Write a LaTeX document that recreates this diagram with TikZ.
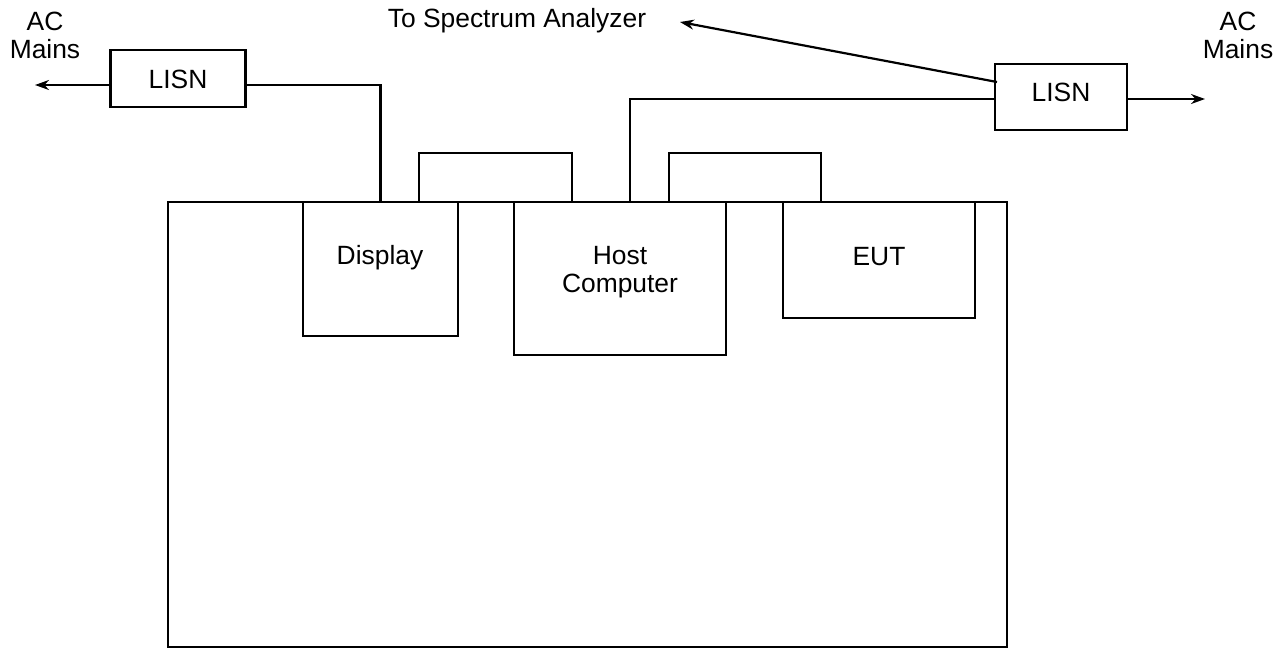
\documentclass[tikz,border=0pt]{standalone}
\usepackage{fontspec}
\setmainfont{Liberation Sans}
\usetikzlibrary{arrows.meta}
\begin{document}
\begin{tikzpicture}[x=0.5pt,y=-0.5pt,
  box/.style={draw,line width=1.1pt,fill=white,inner sep=0pt,outer sep=0pt},
  wire/.style={line width=1.1pt},
  arr/.style={line width=1.1pt,-{Stealth[length=7pt,width=5pt]}},
  lbl/.style={font=\fontsize{13.2pt}{14pt}\selectfont,align=center,inner sep=0pt}]
\useasboundingbox (0,0) rectangle (1281,665);
% bench
\node[box,minimum width=419.5pt,minimum height=222.5pt] (bench) at (587.5,424.5) {};
% units
\node[box,minimum width=77.5pt,minimum height=67pt] (disp) at (380.5,269) {};
\node[box,minimum width=106pt,minimum height=76.5pt] (host) at (620,278.5) {};
\node[box,minimum width=96pt,minimum height=58pt] (eut) at (879,260) {};
\node[lbl] (tdisp) at (380,258) {Display};
\node[lbl] (thost) at (620,272) {Host\\Computer};
\node[lbl] (teut) at (879,257) {EUT};
% LISNs
\node[box,minimum width=67.5pt,minimum height=28.5pt] (lisnL) at (178,78.5) {};
\node[lbl] (tlisnL) at (178,79) {LISN};
\node[box,minimum width=66pt,minimum height=33pt] (lisnR) at (1061,97) {};
\node[lbl] (tlisnR) at (1061,92) {LISN};
% labels
\node[lbl] (acL) at (45,35) {AC\\Mains};
\node[lbl] (acR) at (1238,35) {AC\\Mains};
\node[lbl] (spec) at (517,21) {To Spectrum Analyzer};
% coordinates
\coordinate (aL) at (35,85);
\coordinate (aR) at (1205,99);
\coordinate (d1) at (419,202);
\coordinate (h1) at (572,202);
\coordinate (h2) at (669,202);
\coordinate (e1) at (821,202);
\coordinate (hp) at (630,202);
\coordinate (sa) at (680,22);
\coordinate (ls) at (997,82);
% connectors
\draw[arr] (lisnL.west |- aL) -- (aL);
\draw[wire] (lisnL.east |- aL) -| (disp.north);
\draw[wire] (d1) -- (419,153) -| (h1);
\draw[wire] (h2) -- (669,153) -| (e1);
\draw[wire] (hp) |- (lisnR.west |- aR);
\draw[arr] (lisnR.east |- aR) -- (aR);
\draw[arr] (ls) -- (sa);
\end{tikzpicture}
\end{document}
